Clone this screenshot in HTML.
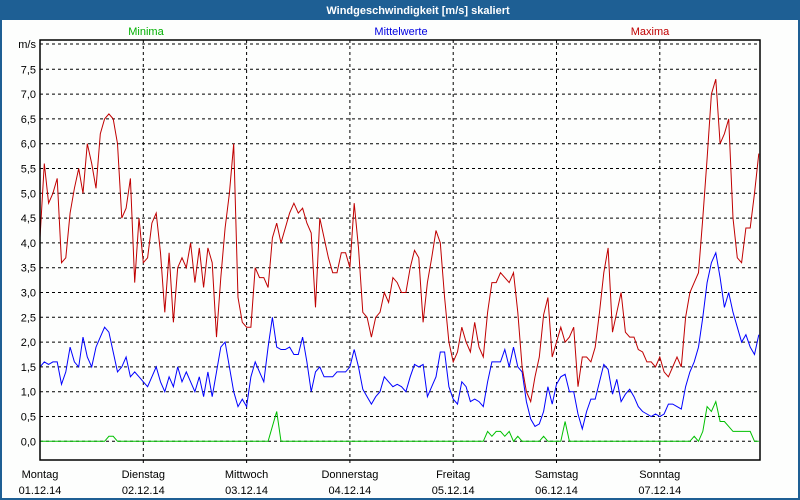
<!DOCTYPE html>
<html><head><meta charset="utf-8"><style>
html,body{margin:0;padding:0;background:#fff;}
#wrap{position:relative;width:800px;height:500px;overflow:hidden;font-family:"Liberation Sans",sans-serif;}
</style></head><body>
<div id="wrap">
<svg id="chart" width="800" height="500" xmlns="http://www.w3.org/2000/svg">
<rect x="0" y="0" width="800" height="500" fill="#1e5f94"/>
<rect x="2" y="20" width="796" height="478" fill="#fdfefd"/>
<text x="418" y="14" text-anchor="middle" font-size="11" font-weight="bold" fill="#fff">Windgeschwindigkeit [m/s] skaliert</text>
<text x="146" y="35" text-anchor="middle" font-size="11" fill="#00b000">Minima</text>
<text x="401" y="35" text-anchor="middle" font-size="11" fill="#0000e0">Mittelwerte</text>
<text x="650" y="35" text-anchor="middle" font-size="11" fill="#c00000">Maxima</text>
<g id="grid"></g>
<g id="series"></g>
<rect x="40" y="40" width="720" height="420" fill="none" stroke="#000" stroke-width="1.5"/>
<g id="labels"></g>
</svg>
</div>
<script>
const days = ["Montag","Dienstag","Mittwoch","Donnerstag","Freitag","Samstag","Sonntag"];
const dates = ["01.12.14","02.12.14","03.12.14","04.12.14","05.12.14","06.12.14","07.12.14"];
const yTicks = [0,0.5,1,1.5,2,2.5,3,3.5,4,4.5,5,5.5,6,6.5,7,7.5];
const yTickLabels = ["0,0","0,5","1,0","1,5","2,0","2,5","3,0","3,5","4,0","4,5","5,0","5,5","6,0","6,5","7,0","7,5"];
const maxima = [4.1,5.6,4.8,5.0,5.3,3.6,3.7,4.6,5.1,5.5,5.0,6.0,5.6,5.1,6.2,6.5,6.6,6.5,6.0,4.5,4.7,5.3,3.2,4.5,
3.6,3.7,4.4,4.6,3.8,2.6,3.8,2.4,3.5,3.7,3.5,4.0,3.2,3.9,3.1,3.9,3.6,2.1,3.3,4.3,5.0,6.0,2.9,2.4,
2.3,2.3,3.5,3.3,3.3,3.1,4.1,4.4,4.0,4.3,4.6,4.8,4.6,4.7,4.4,4.2,2.7,4.5,4.1,3.7,3.4,3.4,3.8,3.8,
3.5,4.8,3.9,2.6,2.5,2.1,2.5,2.6,3.0,2.8,3.3,3.2,3.0,3.0,3.5,3.85,3.7,2.4,3.2,3.7,4.25,4.0,2.9,2.0,
1.6,1.8,2.3,2.0,1.8,2.4,1.9,1.7,2.6,3.2,3.2,3.4,3.3,3.2,3.4,2.6,1.5,1.0,0.8,1.3,1.7,2.55,2.9,1.7,
2.0,2.3,2.0,2.1,2.3,1.1,1.7,1.7,1.6,1.9,2.6,3.4,3.9,2.2,2.6,3.0,2.2,2.1,2.1,1.85,1.8,1.6,1.6,1.5,
1.7,1.4,1.3,1.5,1.7,1.5,2.5,3.0,3.2,3.4,4.5,5.7,7.0,7.3,6.0,6.2,6.5,4.5,3.7,3.6,4.3,4.3,5.0,5.8];
const mittelwerte = [1.5,1.6,1.55,1.6,1.6,1.15,1.4,1.9,1.6,1.5,2.1,1.7,1.5,1.9,2.1,2.3,2.2,1.8,1.4,1.5,1.7,1.3,1.4,1.3,
1.2,1.1,1.3,1.5,1.2,1.0,1.3,1.1,1.5,1.2,1.4,1.2,1.0,1.3,0.9,1.4,0.9,1.4,1.9,2.0,1.5,1.0,0.7,0.85,
0.7,1.3,1.6,1.4,1.2,1.9,2.5,1.9,1.85,1.85,1.9,1.75,1.75,2.1,1.6,1.0,1.4,1.5,1.3,1.3,1.3,1.4,1.4,1.4,
1.5,1.85,1.5,1.05,0.9,0.75,0.9,1.0,1.3,1.2,1.1,1.15,1.1,1.0,1.3,1.55,1.5,1.55,0.9,1.1,1.3,1.8,1.8,1.1,
0.85,0.75,1.2,1.1,0.8,0.85,0.8,0.7,1.2,1.6,1.6,1.6,1.85,1.5,1.9,1.5,1.4,0.8,0.45,0.3,0.35,0.6,1.1,0.75,
1.15,1.3,1.35,1.0,1.0,0.55,0.25,0.6,0.85,0.85,1.2,1.55,1.45,0.95,1.25,0.8,0.95,1.05,0.9,0.7,0.6,0.55,0.5,0.55,
0.5,0.55,0.75,0.75,0.7,0.65,1.1,1.4,1.6,1.9,2.5,3.2,3.6,3.8,3.3,2.7,3.0,2.6,2.3,2.0,2.15,1.9,1.75,2.15];
const minima = [0,0,0,0,0,0,0,0,0,0,0,0,0,0,0,0,0.1,0.1,0,0,0,0,0,0,
0,0,0,0,0,0,0,0,0,0,0,0,0,0,0,0,0,0,0,0,0,0,0,0,
0,0,0,0,0,0,0.3,0.6,0,0,0,0,0,0,0,0,0,0,0,0,0,0,0,0,
0,0,0,0,0,0,0,0,0,0,0,0,0,0,0,0,0,0,0,0,0,0,0,0,
0,0,0,0,0,0,0,0,0.2,0.1,0.2,0.2,0.1,0.2,0,0.1,0,0,0,0,0,0.1,0,0,
0,0,0.4,0,0,0,0,0,0,0,0,0,0,0,0,0,0,0,0,0,0,0,0,0,
0,0,0,0,0,0,0,0,0.1,0,0.2,0.7,0.6,0.8,0.4,0.4,0.3,0.2,0.2,0.2,0.2,0.2,0,0];

const NS = "http://www.w3.org/2000/svg";
const x0 = 40, dayW = 103.3, hours = 24;
function xScale(i){ return x0 + i * dayW / hours; }
function yScale(v){ return 441.3 - v * 49.6; }
const grid = document.getElementById('grid');
const labels = document.getElementById('labels');
const series = document.getElementById('series');
function mk(tag, attrs, parent){ const e=document.createElementNS(NS,tag); for(const k in attrs) e.setAttribute(k, attrs[k]); parent.appendChild(e); return e; }

const unitLine = mk('line',{x1:40,x2:760,y1:44,y2:44,stroke:'#000','stroke-dasharray':'3,3'},grid);


const unitLbl = mk('text',{x:36,y:48,'text-anchor':'end','font-size':11,fill:'#000'},labels);
unitLbl.textContent = 'm/s';



yTicks.forEach((v,k)=>{
  const y = yScale(v);
  const ln = mk('line',{x1:40,x2:760,y1:y,y2:y,stroke:'#000','stroke-dasharray':'3,3'},grid);
  
  
  const t = mk('text',{x:36,y:y+4,'text-anchor':'end','font-size':11,fill:'#000'},labels);
  t.textContent = yTickLabels[k];
  
  
});

days.forEach((d,k)=>{
  const x = xScale(k*hours);
  if(k>0){
    const ln = mk('line',{x1:x,x2:x,y1:40,y2:464,stroke:'#000','stroke-dasharray':'3,3'},grid);
    
    
  }
  const t = mk('text',{x:x,y:478,'text-anchor':'middle','font-size':11,fill:'#000'},labels);
  t.textContent = d;
  
  
  const t2 = mk('text',{x:x,y:494,'text-anchor':'middle','font-size':11,fill:'#000'},labels);
  t2.textContent = dates[k];
  
  
});

function drawLine(arr, color, name){
  const pts = arr.map((v,i)=>xScale(i).toFixed(1)+','+yScale(v).toFixed(1)).join(' ');
  const p = mk('polyline',{points:pts,fill:'none',stroke:color,'stroke-width':1},series);
  
  
}
drawLine(minima,'#00c000','line-minima');
drawLine(mittelwerte,'#0000ff','line-mittelwerte');
drawLine(maxima,'#c00000','line-maxima');
</script>
</body></html>
